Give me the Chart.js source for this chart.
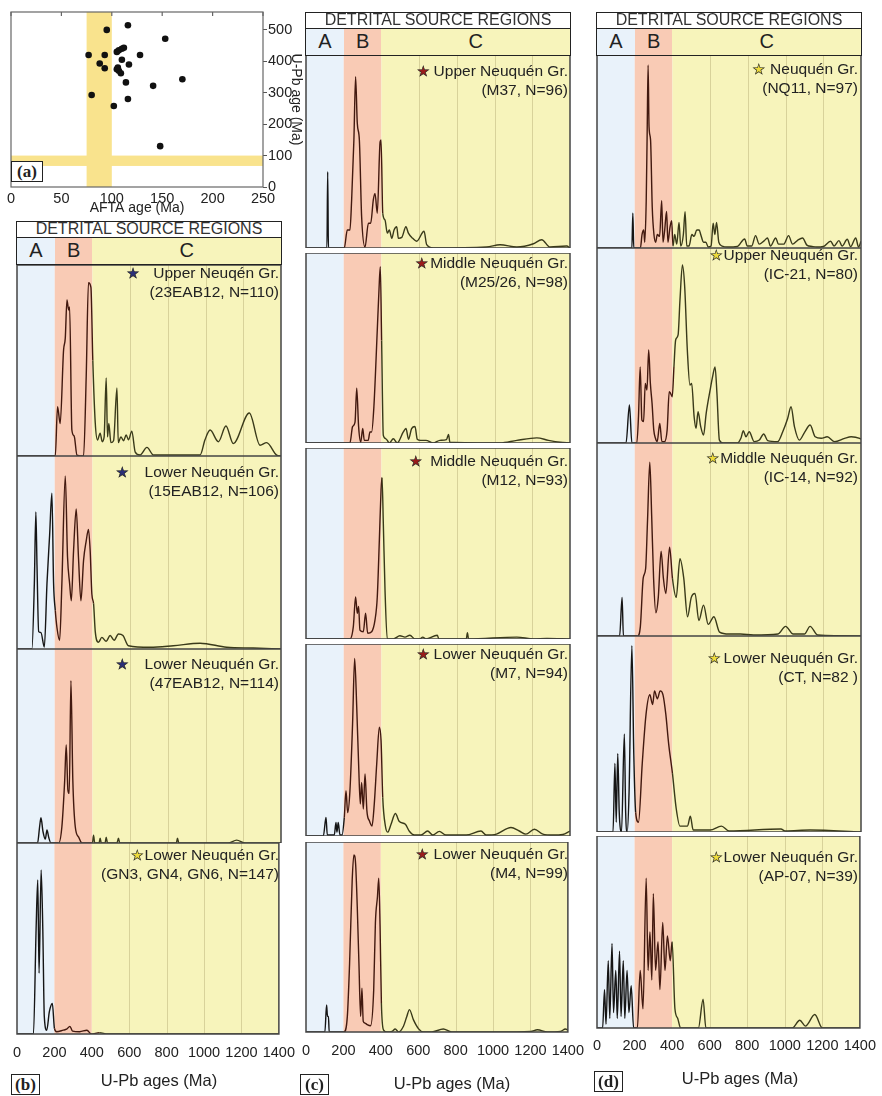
<!DOCTYPE html>
<html>
<head>
<meta charset="utf-8">
<script src="https://cdn.jsdelivr.net/npm/chart.js@4.4.1/dist/chart.umd.min.js"></script>
<style>
  body { margin:0; width:882px; height:1096px; position:relative; overflow:hidden; background:#fff;
         font-family:"Liberation Sans", Arial, sans-serif; color:#222; }
  canvas { position:absolute; }
  .hdr { position:absolute; box-sizing:border-box; border:1.5px solid #222; background:#fff;
         text-align:center; font-size:16px; line-height:14px; color:#333; height:17px; }
  .abc { position:absolute; box-sizing:border-box; border:1.5px solid #222; display:flex; height:28px; }
  .abc div { text-align:center; font-size:20px; line-height:25px; color:#222; }
  .lab { position:absolute; text-align:right; font-size:15.5px; line-height:18px; white-space:nowrap; color:#222; }
  .star { display:inline-block; -webkit-text-stroke:0.6px #222; font-family:"DejaVu Sans", sans-serif; font-size:14px; }
  .tag { position:absolute; box-sizing:border-box; border:1.5px solid #222; background:#fff; text-align:center;
         font:bold 17px "Liberation Serif", "DejaVu Serif", serif; line-height:19px; }
  .axt { position:absolute; font-size:16.5px; white-space:nowrap; transform:translate(-50%,-50%); color:#222; }
</style>
</head>
<body>
<script>
// ---- panel (a): AFTA age vs U-Pb age ----
const aftaAges = [95, 116, 153, 77, 93, 105, 107, 110, 112, 128, 88, 93, 110, 117, 105, 106, 107, 109, 114, 141, 170, 80, 116, 102, 148];
const upbAges  = [500, 515, 472, 420, 420, 430, 435, 440, 443, 420, 393, 378, 405, 390, 375, 380, 370, 362, 333, 322, 343, 293, 280, 258, 130];
const aftaBand = [75, 100];
const upbBand = [67, 100];

// ---- detrital U-Pb probability curves: [age (Ma), relative density (% of panel height)] ----
const b1Curve = [[0,0],[203,0],[215,25.8],[229,17],[247,55.5],[256,61.7],[265,81.7],[274,76.4],[279,78],[291,13.6],[303,10.5],[318,0.5],[353,0],[367,41.5],[379,90.7],[392,88.3],[402,50],[415,17.3],[427,8.4],[441,12],[452,7.5],[462,10],[473,40.8],[480,10],[487,17],[498,7],[512,8],[530,35.6],[537,7],[551,10],[565,8],[579,11],[591,8.5],[609,13],[627,2],[653,0.5],[689,4.5],[724,0.5],[971,0.5],[997,8.5],[1024,13.6],[1068,7.5],[1108,15.7],[1147,6.5],[1232,22.5],[1289,5.6],[1324,7],[1377,0.5],[1400,0]];
const b2Curve = [[0,0],[79,0],[92,34],[100,71],[106,43.5],[115,9],[127,8.5],[145,1],[159,34],[173,59],[185,80.7],[194,34],[203,20],[212,11],[226,4.5],[238,34],[256,89.6],[268,47.5],[279,34],[288,25],[300,51],[314,72.5],[326,47.5],[339,25],[353,46],[367,56],[379,62],[388,51],[397,28.5],[406,23.5],[415,9],[432,3.5],[450,6],[473,4],[494,7],[515,4.5],[538,7.8],[562,7],[591,1.7],[706,0.9],[829,1.7],[971,3],[1112,0.9],[1253,0.5],[1400,0]];
const b3Curve = [[0,0],[109,0],[120,8.5],[127,13],[138,5.8],[150,2],[159,6.7],[168,3],[180,0],[221,0],[238,8.4],[253,32.5],[261,50.5],[270,27.3],[277,25.6],[286,83.7],[296,32.5],[309,8.4],[327,3],[344,0],[400,0],[406,4],[412,0],[435,0],[441,2.5],[447,0],[467,0],[473,3],[480,0],[530,0],[538,2.5],[545,0],[845,0],[851,2.5],[858,0],[1120,0],[1165,1.5],[1210,0],[1400,0]];
const b4Curve = [[0,0],[88,0],[102,54.5],[111,80.6],[118,31.8],[129,85.9],[138,54.5],[146,9],[159,2],[173,11.7],[189,16],[200,3],[212,1.2],[247,2],[265,2.5],[283,4],[297,1.5],[335,1.2],[374,2],[397,0],[441,0.7],[485,0],[1400,0]];

const c1Curve = [[0,0],[111,0],[115,39.5],[119,0],[203,0],[219,9.3],[233,9.3],[242,24.9],[254,56],[263,88.8],[272,64.6],[283,56],[295,16.2],[313,0.5],[331,12.8],[343,12.8],[357,24.9],[366,28.3],[378,18],[393,55],[398,56],[407,18],[419,14.5],[431,7.7],[442,9.3],[455,5],[467,9.3],[481,11],[490,5],[508,5.5],[530,11],[543,7.7],[566,5],[587,3.5],[626,8.7],[640,1.7],[675,0],[958,0.5],[1029,1.7],[1118,0.5],[1206,2.2],[1250,4.3],[1294,0.5],[1383,1],[1400,0]];
const c2Curve = [[0,0],[233,0],[247,8.6],[260,11],[269,28.8],[279,8.6],[290,0.5],[301,7.6],[309,1.4],[330,1.4],[339,5.8],[348,5.8],[360,19],[378,59.5],[387,80.5],[394,92.8],[401,54],[410,4],[424,2.2],[442,0],[463,2.2],[484,0],[516,5.8],[530,7.6],[544,2],[560,7.6],[578,8.7],[590,2],[608,1.4],[636,1.4],[675,0],[710,1.4],[745,1.8],[756,4.5],[763,0.4],[1029,0],[1118,1.4],[1224,2.7],[1286,1.4],[1348,0.4],[1400,0]];
const c3Curve = [[0,0],[233,0],[251,6.5],[263,22],[272,13.5],[279,17],[286,4.7],[304,3.8],[316,13.5],[327,3],[348,3.8],[366,10],[378,22],[389,51.8],[398,78],[403,84.6],[410,60.6],[419,25.7],[431,0],[463,0],[498,1.7],[525,1],[551,2],[578,0],[604,0],[619,1],[636,0],[696,2],[705,0],[850,0],[856,3.3],[862,0],[1118,1],[1206,0],[1277,0.3],[1400,0]];
const c4Curve = [[0,0],[92,0],[106,9.6],[113,0.5],[150,0.5],[159,7],[164,2],[171,7],[180,0.5],[191,0.5],[203,9.6],[212,23.6],[221,12.2],[233,23.6],[247,58.5],[258,92.5],[269,67.2],[279,37.5],[288,16.6],[295,27.9],[304,14],[313,32.3],[323,13.1],[336,7.9],[350,5.2],[362,16.6],[375,37.5],[389,56.7],[398,49.7],[407,20],[421,5.2],[433,2],[451,6.1],[474,11.7],[495,7.5],[527,6.1],[548,2.5],[575,0.5],[610,0.5],[645,2.6],[672,0.5],[707,2.4],[742,0.5],[849,0.5],[928,2.6],[955,0.5],[1010,1],[1087,4.4],[1131,2.6],[1166,1],[1211,3.5],[1256,1],[1309,0.5],[1362,0.8],[1400,2.6]];
const c5Curve = [[0,0],[101,0],[110,14.2],[115,8.2],[120,8.2],[124,0],[203,0],[221,8.2],[233,36],[247,80],[256,93.2],[265,88.8],[274,66],[283,36],[292,8.2],[299,23],[306,5.6],[315,4.7],[327,3.9],[345,3.3],[362,22.3],[371,57.4],[382,71.2],[389,81],[396,55.6],[403,15.3],[415,1],[433,0],[460,0.3],[477,1.6],[495,0],[521,3],[539,8.2],[553,11.8],[574,6.5],[601,1.8],[628,0],[672,0],[734,1.6],[778,0],[1025,0],[1202,0.3],[1237,1.2],[1290,0],[1360,0.3],[1387,1.6],[1400,1]];

const d1Curve = [[0,0],[185,0],[190,18],[195,0],[230,0],[239,7],[248,9.3],[253,3],[261,24.5],[266,59.4],[271,94.8],[276,62.8],[284,56],[293,21],[302,7],[311,3],[320,7],[332,6],[343,24.5],[350,3],[359,9.3],[369,19],[376,3],[387,10.7],[396,14.2],[403,1],[412,7],[423,2],[435,13.3],[444,1],[458,7],[467,18.8],[476,1],[488,1],[503,7],[515,6],[529,9.3],[542,9.3],[550,7],[565,3],[577,3],[590,0.5],[605,1],[616,12.8],[625,7],[634,13.3],[646,3],[664,1],[691,0.5],[744,0.8],[783,4.7],[797,1],[820,1],[841,6.4],[860,2],[886,3.7],[904,5.2],[920,1],[948,5.2],[962,2],[990,2],[1016,6.4],[1037,2],[1064,4],[1090,5.2],[1113,1.5],[1140,0.8],[1165,0.5],[1200,0.8],[1239,3.5],[1257,1],[1283,3.8],[1300,1],[1327,4.5],[1345,0.7],[1372,5.2],[1387,0.5],[1400,3.5]];
const d2Curve = [[0,0],[154,0],[172,19.5],[185,0],[211,0],[220,13.5],[229,39],[238,11.8],[247,11],[256,30.6],[265,27.2],[274,47.7],[283,30.6],[292,20.3],[301,6.7],[310,2.4],[319,0.7],[333,10],[344,0.7],[358,0.7],[372,6.7],[383,26.3],[390,25.5],[399,23.7],[408,39],[417,52.8],[430,55.4],[440,73.3],[453,91.3],[465,80.2],[479,47.7],[493,29.7],[502,30.6],[515,13.5],[525,7.5],[536,16],[550,8.4],[565,4.1],[579,15.2],[600,27.2],[613,34],[626,39],[636,25.5],[649,1.5],[667,0],[745,0],[763,2.4],[776,6.3],[790,3.2],[807,5.8],[834,0.7],[861,1.5],[884,4.6],[905,1.2],[958,0.7],[985,5.8],[1011,12.6],[1029,18.6],[1047,8.4],[1073,1.5],[1100,5.3],[1130,9.2],[1157,3.2],[1189,2.4],[1221,3.2],[1260,0.7],[1313,2.4],[1348,3.2],[1393,2.4],[1400,2]];
const d3Curve = [[0,0],[120,0],[133,20],[140,0],[215,0],[230,5],[245,30],[258,35],[268,60],[280,90],[290,62],[300,30],[312,12],[325,20],[340,44],[352,30],[365,22],[385,46],[400,30],[420,20],[440,40],[460,30],[480,10],[500,20],[520,22],[540,8],[565,16],[590,6],[620,10],[650,2],[700,1],[760,1],[830,0.5],[960,1],[1000,5],[1040,1],[1100,1],[1130,5],[1170,0.5],[1400,0]];
const d4Curve = [[0,0],[85,0],[95,35],[102,5],[110,40],[118,10],[130,0],[145,50],[152,10],[160,0],[170,20],[185,95],[195,40],[205,10],[220,5],[240,35],[260,60],[280,70],[295,65],[305,72],[320,68],[335,72],[350,70],[365,60],[380,45],[400,30],[420,12],[440,3],[480,3],[495,8],[510,1],[600,1],[660,3],[700,0.5],[975,1.5],[1000,0.5],[1130,1],[1400,0]];
const d5Curve = [[0,0],[30,0],[40,20],[48,2],[60,35],[68,5],[80,44],[88,8],[100,30],[108,5],[120,40],[128,6],[140,35],[148,5],[160,30],[170,8],[182,22],[195,0],[215,0],[230,30],[245,10],[262,78],[272,30],[282,50],[292,25],[300,70],[312,30],[325,45],[335,20],[350,55],[362,30],[375,48],[390,35],[400,45],[415,10],[430,5],[445,0],[540,0],[565,15],[580,0],[1040,0],[1080,4],[1110,1],[1160,7],[1200,0],[1400,0]];

const ageTicks = [0, 200, 400, 600, 800, 1000, 1200, 1400];
const gridAges = [600, 800, 1000, 1200];
const regionNames = ['A', 'B', 'C'];
const regionEdges = [0, 200, 400, 1400];

const regionFill = ['#e9f2fa', '#f9cbb5', '#f7f4bb'];
const regionLine = ['#151515', '#42190f', '#3a3a1a'];

Chart.defaults.font.family = '"Liberation Sans", Arial, sans-serif';

// background source regions, grid and frame for every age panel
const regionPlugin = {
  id: 'regions',
  beforeDraw(chart) {
    const {ctx, chartArea: {top, bottom}, scales: {x}} = chart;
    ctx.save();
    for (let i = 0; i < 3; i++) {
      const x0 = x.getPixelForValue(regionEdges[i]);
      const x1 = x.getPixelForValue(regionEdges[i + 1]);
      ctx.fillStyle = regionFill[i];
      ctx.fillRect(x0, top, x1 - x0, bottom - top);
    }
    ctx.strokeStyle = '#d8d29a';
    ctx.lineWidth = 1;
    gridAges.forEach(v => {
      const px = Math.round(x.getPixelForValue(v)) + 0.5;
      ctx.beginPath(); ctx.moveTo(px, top); ctx.lineTo(px, bottom); ctx.stroke();
    });
    ctx.restore();
  },
  afterDraw(chart) {
    const {ctx, chartArea: {left, top, right, bottom}} = chart;
    ctx.save();
    ctx.strokeStyle = '#444';
    ctx.lineWidth = 1.5;
    ctx.strokeRect(left, top, right - left, bottom - top);
    ctx.restore();
  }
};

function addSubplot(box, curve, showAxis) {
  const pad = 24;
  const w = box.right - box.left;
  const h = box.bottom - box.top;
  const axisH = showAxis ? box.axisH : 0;
  const cv = document.createElement('canvas');
  cv.width = w + 2 * pad;
  cv.height = h + axisH;
  cv.style.left = (box.left - pad) + 'px';
  cv.style.top = box.top + 'px';
  document.body.appendChild(cv);
  return new Chart(cv, {
    type: 'line',
    data: {
      datasets: [{
        data: curve,
        borderWidth: 1.4,
        borderColor: '#333',
        pointRadius: 0,
        fill: false,
        cubicInterpolationMode: 'monotone',
        segment: {
          borderColor: ctx => {
            const a = ctx.p0.parsed.x;
            return a < 200 ? regionLine[0] : a < 400 ? regionLine[1] : regionLine[2];
          }
        }
      }]
    },
    options: {
      responsive: false,
      animation: false,
      events: [],
      layout: { padding: { left: pad, right: pad, top: 0, bottom: 0 } },
      plugins: { legend: { display: false }, tooltip: { enabled: false } },
      scales: {
        x: {
          type: 'linear', min: 0, max: 1400,
          display: showAxis,
          afterBuildTicks: s => { s.ticks = ageTicks.map(v => ({ value: v })); },
          grid: { display: false, drawTicks: false },
          border: { display: false },
          ticks: {
            padding: box.tickPad || 10, color: '#222', font: { size: 14.5 },
            maxRotation: 0, minRotation: 0, autoSkip: false,
            callback: v => String(v)
          },
          afterFit: s => { s.height = axisH; }
        },
        y: { min: 0, max: 100, display: false }
      }
    },
    plugins: [regionPlugin]
  });
}

function addHeader(left, top, width) {
  const hdr = document.createElement('div');
  hdr.className = 'hdr';
  hdr.style.left = left + 'px'; hdr.style.top = top + 'px'; hdr.style.width = width + 'px';
  hdr.textContent = 'DETRITAL SOURCE REGIONS';
  document.body.appendChild(hdr);
  const abc = document.createElement('div');
  abc.className = 'abc';
  abc.style.left = left + 'px'; abc.style.top = (top + 16) + 'px'; abc.style.width = width + 'px';
  regionNames.forEach((n, i) => {
    const d = document.createElement('div');
    d.textContent = n;
    d.style.background = regionFill[i];
    d.style.width = ((regionEdges[i + 1] - regionEdges[i]) / 1400 * 100) + '%';
    abc.appendChild(d);
  });
  document.body.appendChild(abc);
}

function addLabel(spec) {
  const l1 = document.createElement('div');
  l1.className = 'lab';
  l1.style.right = (882 - spec.x) + 'px';
  l1.style.top = (spec.y - 9) + 'px';
  const st = document.createElement('span');
  st.className = 'star';
  st.textContent = '\u2605';
  st.style.color = spec.star;
  st.style.marginRight = spec.gap + 'px';
  l1.appendChild(st);
  l1.appendChild(document.createTextNode(spec.name));
  document.body.appendChild(l1);
  const l2 = document.createElement('div');
  l2.className = 'lab';
  l2.style.right = (882 - spec.x) + 'px';
  l2.style.top = (spec.y + 10) + 'px';
  l2.textContent = spec.code;
  document.body.appendChild(l2);
}

function addText(cls, text, left, top, width) {
  const d = document.createElement('div');
  d.className = cls;
  d.textContent = text;
  d.style.left = left + 'px';
  d.style.top = top + 'px';
  if (width) d.style.width = width + 'px';
  document.body.appendChild(d);
}

// ---------- panel (a) ----------
const aCanvas = document.createElement('canvas');
aCanvas.width = 304; aCanvas.height = 217;
aCanvas.style.left = '0px'; aCanvas.style.top = '0px';
document.body.appendChild(aCanvas);

const aPlugin = {
  id: 'aBands',
  beforeDatasetsDraw(chart) {
    const {ctx, chartArea: {left, top, right, bottom}, scales: {x, y}} = chart;
    ctx.save();
    ctx.fillStyle = '#f9e38d';
    const bx0 = x.getPixelForValue(aftaBand[0]), bx1 = x.getPixelForValue(aftaBand[1]);
    ctx.fillRect(bx0, top, bx1 - bx0, bottom - top);
    const by0 = y.getPixelForValue(upbBand[1]), by1 = y.getPixelForValue(upbBand[0]);
    ctx.fillRect(left, by0, right - left, by1 - by0);
    ctx.restore();
  },
  afterDraw(chart) {
    const {ctx, chartArea: {left, top, right, bottom}, scales: {x}} = chart;
    ctx.save();
    ctx.strokeStyle = '#666';
    ctx.lineWidth = 1.2;
    ctx.strokeRect(left, top, right - left, bottom - top);
    x.ticks.forEach(t => {
      const px = x.getPixelForValue(t.value);
      ctx.beginPath(); ctx.moveTo(px, top); ctx.lineTo(px, top + 4); ctx.stroke();
    });
    ctx.restore();
  }
};

new Chart(aCanvas, {
  type: 'scatter',
  data: {
    datasets: [{
      data: aftaAges.map((a, i) => ({ x: a, y: upbAges[i] })),
      pointRadius: 3.3,
      backgroundColor: '#111',
      borderWidth: 0
    }]
  },
  options: {
    responsive: false,
    animation: false,
    events: [],
    layout: { padding: { left: 11, top: 12, right: 0, bottom: 0 } },
    plugins: { legend: { display: false }, tooltip: { enabled: false } },
    scales: {
      x: {
        type: 'linear', min: 0, max: 250,
        ticks: { stepSize: 50, includeBounds: false, padding: 3, color: '#222', font: { size: 14.5 }, maxRotation: 0 },
        grid: { display: false, drawTicks: false },
        border: { display: false },
        title: { display: true, text: 'AFTA age (Ma)', color: '#222', font: { size: 14 }, padding: 0 },
        afterFit: s => { s.height = 30; }
      },
      y: {
        type: 'linear', position: 'right', min: 0, max: 557,
        ticks: { stepSize: 100, includeBounds: false, padding: 1, color: '#222', font: { size: 14.5 } },
        grid: { drawOnChartArea: false, drawTicks: true, tickLength: 4, color: '#555' },
        border: { display: false },
        title: { display: true, text: 'U-Pb age (Ma)', color: '#222', font: { size: 14 }, padding: 0 },
        afterFit: s => { s.width = 41; }
      }
    }
  },
  plugins: [aPlugin]
});
addText('tag', '(a)', 11, 161, 32);

// ---------- panels (b), (c), (d) ----------
const bBoxes = [
  { left: 17, right: 281, top: 265, bottom: 456 },
  { left: 17, right: 281, top: 456, bottom: 649 },
  { left: 17, right: 281, top: 649, bottom: 843 },
  { left: 17, right: 281, top: 843, bottom: 1034, axisH: 38, tickPad: 10 }
];
const cBoxes = [
  { left: 306, right: 570, top: 55, bottom: 248 },
  { left: 306, right: 570, top: 253, bottom: 443 },
  { left: 306, right: 570, top: 448, bottom: 639 },
  { left: 306, right: 570, top: 644, bottom: 836 },
  { left: 306, right: 570, top: 842, bottom: 1032, axisH: 38, tickPad: 10 }
];
const dBoxes = [
  { left: 597, right: 861, top: 55, bottom: 248 },
  { left: 597, right: 861, top: 248, bottom: 443 },
  { left: 597, right: 861, top: 443, bottom: 636 },
  { left: 597, right: 861, top: 636, bottom: 832 },
  { left: 597, right: 861, top: 836, bottom: 1028, axisH: 38, tickPad: 9 }
];
const bCurves = [b1Curve, b2Curve, b3Curve, b4Curve];
const cCurves = [c1Curve, c2Curve, c3Curve, c4Curve, c5Curve];
const dCurves = [d1Curve, d2Curve, d3Curve, d4Curve, d5Curve];

bBoxes.forEach((b, i) => addSubplot(b, bCurves[i], i === bBoxes.length - 1));
cBoxes.forEach((b, i) => addSubplot(b, cCurves[i], i === cBoxes.length - 1));
dBoxes.forEach((b, i) => addSubplot(b, dCurves[i], i === dBoxes.length - 1));

addHeader(16, 221, 266);
addHeader(305, 12, 266);
addHeader(596, 12, 266);

const navy = '#2b2f78', wine = '#9b1b1b', gold = '#eedc3c';
[
  { x: 279, y: 273, star: navy, gap: 14, name: 'Upper Neuqén Gr.', code: '(23EAB12, N=110)' },
  { x: 279, y: 472, star: navy, gap: 16, name: 'Lower Neuquén Gr.', code: '(15EAB12, N=106)' },
  { x: 279, y: 664, star: navy, gap: 16, name: 'Lower Neuquén Gr.', code: '(47EAB12, N=114)' },
  { x: 279, y: 855, star: gold, gap: 1, name: 'Lower Neuquén Gr.', code: '(GN3, GN4, GN6, N=147)' },
  { x: 568, y: 71, star: wine, gap: 4, name: 'Upper Neuquén Gr.', code: '(M37, N=96)' },
  { x: 568, y: 263, star: wine, gap: 2, name: 'Middle Neuquén Gr.', code: '(M25/26, N=98)' },
  { x: 568, y: 461, star: wine, gap: 8, name: 'Middle Neuquén Gr.', code: '(M12, N=93)' },
  { x: 568, y: 654, star: wine, gap: 4, name: 'Lower Neuquén Gr.', code: '(M7, N=94)' },
  { x: 568, y: 854, star: wine, gap: 5, name: 'Lower Neuquén Gr.', code: '(M4, N=99)' },
  { x: 858, y: 69, star: gold, gap: 5, name: 'Neuquén Gr.', code: '(NQ11, N=97)' },
  { x: 858, y: 255, star: gold, gap: 1, name: 'Upper Neuquén Gr.', code: '(IC-21, N=80)' },
  { x: 858, y: 458, star: gold, gap: 1, name: 'Middle Neuquén Gr.', code: '(IC-14, N=92)' },
  { x: 858, y: 658, star: gold, gap: 3, name: 'Lower Neuquén Gr.', code: '(CT, N=82 )' },
  { x: 858, y: 857, star: gold, gap: 1, name: 'Lower Neuquén Gr.', code: '(AP-07, N=39)' }
].forEach(addLabel);

addText('axt', 'U-Pb ages (Ma)', 159, 1080);
addText('axt', 'U-Pb ages (Ma)', 452, 1083);
addText('axt', 'U-Pb ages (Ma)', 740, 1078);
addText('tag', '(b)', 11, 1074, 29);
addText('tag', '(c)', 300, 1074, 29);
addText('tag', '(d)', 594, 1071, 29);
</script>
</body>
</html>
